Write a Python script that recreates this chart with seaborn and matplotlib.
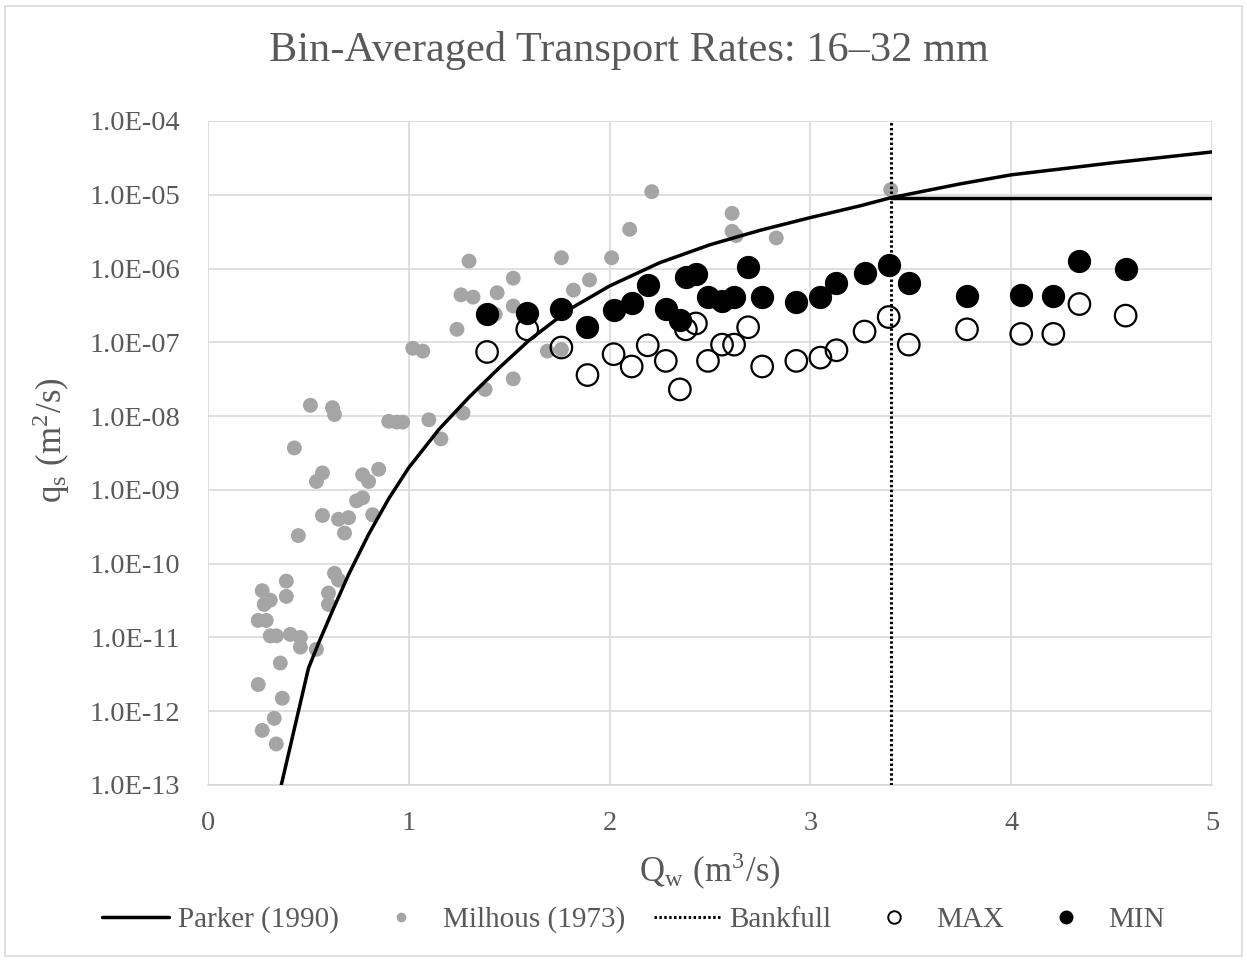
import numpy as np
import pandas as pd
import matplotlib
matplotlib.use("Agg")
import matplotlib.pyplot as plt
import seaborn as sns
from matplotlib.lines import Line2D
from matplotlib.patches import Rectangle
from matplotlib.ticker import FixedLocator, FuncFormatter

# --- DATA ---
# Parker (1990) curve, sampled points
parker_q = [0.365, 0.50, 0.55, 0.62, 0.70, 0.80, 0.90, 1.00, 1.15, 1.30, 1.45,
            1.60, 1.80, 2.00, 2.25, 2.50, 2.75, 3.00, 3.25, 3.40, 3.75, 4.00,
            4.50, 5.00]
parker_qs = [1.0e-13, 3.8e-12, 8.3e-12, 2.3e-11, 7.1e-11, 2.5e-10, 7.6e-10,
             2.0e-9, 6.6e-9, 1.8e-8, 4.5e-8, 1.07e-7, 2.8e-7, 5.8e-7, 1.2e-6,
             2.1e-6, 3.3e-6, 4.9e-6, 7.1e-6, 9.1e-6, 1.41e-5, 1.86e-5, 2.7e-5,
             3.8e-5]

# Parker value held constant above bankfull
plateau_q = [3.40, 5.00]
plateau_qs = [9.1e-6, 9.1e-6]

bankfull_q = 3.40

# Milhous (1973)
milhous_q = [1.30, 1.52, 1.26, 1.32, 1.44, 1.52, 1.24, 1.02, 1.07, 1.38, 1.52,
             1.27, 1.16, 1.10, 0.90, 0.94, 0.97, 0.51, 0.62, 0.63, 0.43, 0.57,
             0.54, 0.77, 0.80, 0.85, 0.74, 0.77, 0.82, 0.57, 0.65, 0.70, 0.68,
             0.45, 0.63, 0.65, 0.60, 0.60, 0.39, 0.27, 0.31, 0.28, 0.39, 0.25,
             0.29, 0.31, 0.34, 0.41, 0.46, 0.46, 0.54, 0.36, 0.25, 0.37, 0.33,
             0.27, 0.34, 2.21, 2.10, 2.61, 2.61, 2.63, 2.83, 1.76, 2.01, 1.90,
             1.82, 1.43, 1.76, 1.69, 3.40]
milhous_qs = [1.26e-6, 7.4e-7, 4.4e-7, 4.1e-7, 4.7e-7, 3.1e-7, 1.5e-7, 8.3e-8,
              7.6e-8, 2.3e-8, 3.2e-8, 1.1e-8, 4.9e-9, 8.9e-9, 8.5e-9, 8.3e-9,
              8.3e-9, 1.4e-8, 1.3e-8, 1.05e-8, 3.7e-9, 1.7e-9, 1.3e-9, 1.6e-9,
              1.3e-9, 1.9e-9, 7.1e-10, 7.8e-10, 4.6e-10, 4.5e-10, 4.0e-10,
              4.2e-10, 2.6e-10, 2.4e-10, 7.4e-11, 6.0e-11, 4.0e-11, 2.8e-11,
              5.8e-11, 4.3e-11, 3.2e-11, 2.8e-11, 3.6e-11, 1.7e-11, 1.7e-11,
              1.05e-11, 1.05e-11, 1.1e-11, 1.0e-11, 7.4e-12, 6.9e-12, 4.5e-12,
              2.3e-12, 1.5e-12, 8.0e-13, 5.5e-13, 3.6e-13, 1.1e-5, 3.4e-6,
              5.6e-6, 3.2e-6, 2.8e-6, 2.6e-6, 1.4e-6, 1.4e-6, 7.0e-7, 5.1e-7,
              2.4e-7, 8.0e-8, 7.6e-8, 1.17e-5]

# Bin-averaged discharges and MAX / MIN transport rates
bin_q = [1.39, 1.59, 1.76, 1.89, 2.02, 2.11, 2.19, 2.28, 2.35, 2.38, 2.43,
         2.49, 2.56, 2.62, 2.69, 2.76, 2.93, 3.05, 3.13, 3.27, 3.39, 3.49,
         3.78, 4.05, 4.21, 4.34, 4.57]
max_qs = [7.4e-8, 1.5e-7, 8.5e-8, 3.6e-8, 6.9e-8, 4.7e-8, 9.1e-8, 5.6e-8,
          2.3e-8, 1.5e-7, 1.8e-7, 5.6e-8, 9.3e-8, 9.3e-8, 1.6e-7, 4.7e-8,
          5.6e-8, 6.2e-8, 7.8e-8, 1.4e-7, 2.2e-7, 9.3e-8, 1.5e-7, 1.3e-7,
          1.3e-7, 3.3e-7, 2.3e-7]
min_qs = [2.4e-7, 2.5e-7, 2.8e-7, 1.6e-7, 2.7e-7, 3.4e-7, 5.9e-7, 2.8e-7,
          2.0e-7, 7.7e-7, 8.5e-7, 4.1e-7, 3.6e-7, 4.1e-7, 1.04e-6, 4.1e-7,
          3.5e-7, 4.1e-7, 6.3e-7, 8.8e-7, 1.1e-6, 6.3e-7, 4.2e-7, 4.4e-7,
          4.2e-7, 1.26e-6, 9.8e-7]

y_ticks = [1e-13, 1e-12, 1e-11, 1e-10, 1e-9, 1e-8, 1e-7, 1e-6, 1e-5, 1e-4]
x_ticks = [0, 1, 2, 3, 4, 5]

# --- STYLE ---
sns.set_theme(style="white")
plt.rcParams["font.family"] = ["Liberation Serif", "DejaVu Serif"]
plt.rcParams["mathtext.fontset"] = "stix"
TXT = "#595959"
GRID = "#D9D9D9"
GREY = "#A5A5A5"

fig = plt.figure(figsize=(12.47, 9.6), dpi=100)
fig.patches.append(Rectangle((0.004, 0.004), 0.992, 0.99, transform=fig.transFigure,
                             fill=False, edgecolor=GRID, linewidth=1.2))
ax = fig.add_axes([0.1668, 0.1823, 0.8051, 0.6917])

milhous = pd.DataFrame({"Q": milhous_q, "qs": milhous_qs})
parker = pd.DataFrame({"Q": parker_q, "qs": parker_qs})
bins = pd.DataFrame({"Q": bin_q, "MAX": max_qs, "MIN": min_qs})

sns.scatterplot(data=milhous, x="Q", y="qs", color=GREY, s=115, edgecolor="none",
                ax=ax, zorder=2, legend=False)
sns.lineplot(data=parker, x="Q", y="qs", sort=False, estimator=None, color="black",
             linewidth=2.5, ax=ax, zorder=3, legend=False)
sns.lineplot(x=plateau_q, y=plateau_qs, sort=False, estimator=None, color="black",
             linewidth=2.5, ax=ax, zorder=3, legend=False)
ax.axvline(bankfull_q, color="black", linewidth=2.2, linestyle=(0, (0.8, 0.8)), zorder=3)
sns.scatterplot(data=bins, x="Q", y="MAX", s=240, facecolor="none", edgecolor="black",
                linewidth=1.6, ax=ax, zorder=4, legend=False)
sns.scatterplot(data=bins, x="Q", y="MIN", s=240, color="black", edgecolor="black",
                ax=ax, zorder=4, legend=False)

ax.set_yscale("log")
ax.set_xlim(0, 5)
ax.set_ylim(1e-13, 1e-4)
ax.yaxis.set_major_locator(FixedLocator(y_ticks))
ax.yaxis.set_minor_locator(FixedLocator([]))
ax.yaxis.set_major_formatter(FuncFormatter(lambda v, p: f"{v:.1E}"))
ax.set_xticks(x_ticks)
ax.grid(True, color=GRID, linewidth=1.2)
ax.set_axisbelow(True)
for side in ["top", "right", "left"]:
    ax.spines[side].set_visible(False)
ax.spines["bottom"].set_color(GRID)
ax.spines["bottom"].set_linewidth(1.2)
ax.tick_params(axis="both", length=0, labelsize=20.5, labelcolor=TXT)
ax.tick_params(axis="y", pad=20)
ax.tick_params(axis="x", pad=19)

ax.set_xlabel(r"Q$_\mathregular{w}$ (m$^\mathregular{3}$/s)", fontsize=25, color=TXT, labelpad=10)
ax.set_ylabel(r"q$_\mathregular{s}$ (m$^\mathregular{2}$/s)", fontsize=25, color=TXT)
ax.yaxis.set_label_coords(-0.135, 0.52)
fig.suptitle("Bin-Averaged Transport Rates: 16\u201332 mm", fontsize=30.5, color=TXT,
             x=0.504, y=0.968)

handles = [
    Line2D([], [], color="black", linewidth=2.5),
    Line2D([], [], linestyle="none", marker="o", markersize=7, color=GREY, markeredgecolor="none"),
    Line2D([], [], color="black", linewidth=2.2, linestyle=(0, (0.8, 0.8))),
    Line2D([], [], linestyle="none", marker="o", markersize=9, markerfacecolor="none",
           markeredgecolor="black", markeredgewidth=1.4),
    Line2D([], [], linestyle="none", marker="o", markersize=9, color="black"),
]
labels = ["Parker (1990)", "Milhous (1973)", "Bankfull", "MAX", "MIN"]
fig.legend(handles, labels, loc="center", bbox_to_anchor=(0.508, 0.042), ncol=5,
           frameon=False, fontsize=21, labelcolor=TXT, handlelength=2.3,
           handletextpad=0.3, columnspacing=0.98)

fig.savefig("out.png", dpi=100, facecolor="white")
